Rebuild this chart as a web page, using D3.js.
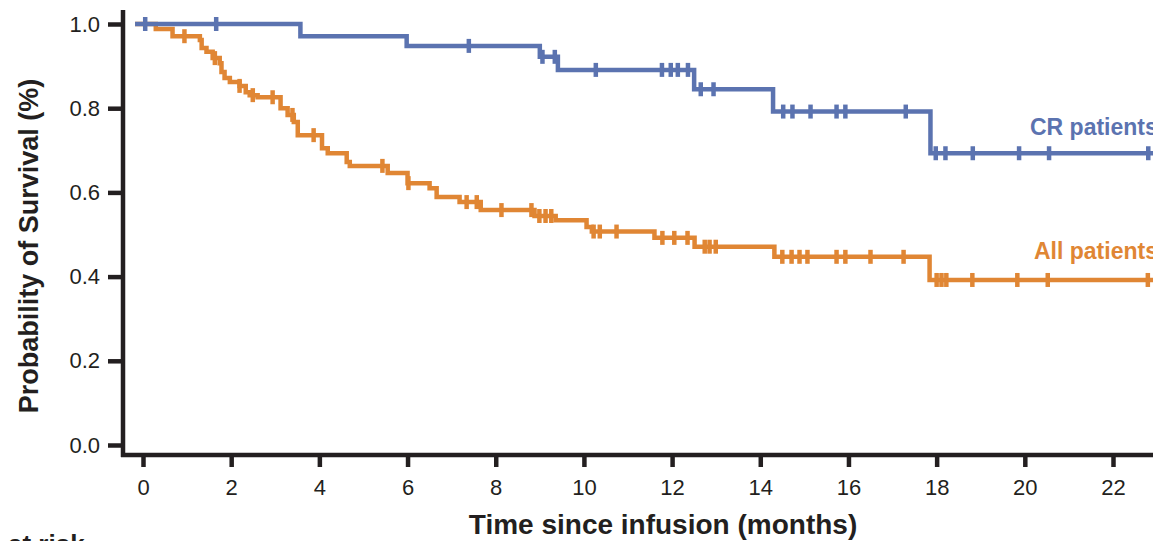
<!DOCTYPE html>
<html>
<head>
<meta charset="utf-8">
<script src="https://cdn.jsdelivr.net/npm/d3@7"></script>
<style>
  body { margin: 0; background: #fff; }
  svg { display: block; font-family: "Liberation Sans", Arial, sans-serif; }
</style>
</head>
<body>
<svg width="1153" height="541"></svg>
<script>
// Kaplan-Meier steps: time (months) where the curve drops, and survival after the drop
var crTimes = [-0.18, 3.57, 5.98, 9.0, 9.41, 12.5, 14.29, 17.86];
var crSurv  = [1.0, 0.971, 0.948, 0.922, 0.891, 0.845, 0.792, 0.693];
var crCensor = [0.05, 1.66, 7.39, 9.06, 9.34, 10.27, 11.77, 11.97, 12.13, 12.36, 12.65, 12.94,
                14.52, 14.73, 15.14, 15.73, 15.93, 17.3, 17.98, 18.2, 18.82, 19.87, 20.55, 22.8];

var allTimes = [-0.18, 0.29, 0.67, 1.29, 1.33, 1.44, 1.58, 1.74, 1.78, 1.85, 1.97, 2.19, 2.33, 2.42, 2.6,
                3.12, 3.28, 3.42, 3.51, 4.06, 4.19, 4.62, 4.69, 5.55, 6.0, 6.5, 6.66, 7.18, 7.66,
                8.88, 9.36, 10.06, 10.18, 11.6, 12.51, 14.32, 17.84];
var allSurv  = [1.0, 0.988, 0.971, 0.962, 0.943, 0.934, 0.919, 0.907, 0.886, 0.872, 0.862, 0.853, 0.838, 0.831, 0.826,
                0.80, 0.784, 0.767, 0.736, 0.705, 0.693, 0.672, 0.663, 0.646, 0.622, 0.61, 0.589, 0.577, 0.558,
                0.544, 0.534, 0.518, 0.507, 0.492, 0.471, 0.447, 0.392];
var allCensor = [0.94, 1.63, 2.19, 2.49, 2.94, 3.39, 3.87, 5.43, 6.02, 7.34, 7.57, 8.13, 8.81, 8.99, 9.13, 9.26,
                 10.22, 10.36, 10.74, 11.78, 12.05, 12.35, 12.74, 12.85, 12.99, 14.5, 14.71, 14.89, 15.07,
                 15.73, 15.93, 16.5, 17.25, 18.0, 18.11, 18.22, 18.81, 19.83, 20.52, 22.79];

var lastTime = 22.95;
var xTicks = [0, 2, 4, 6, 8, 10, 12, 14, 16, 18, 20, 22];
var yTicks = [0, 0.2, 0.4, 0.6, 0.8, 1.0];

var ink = "#231f20";
var blue = "#5b73b0";
var orange = "#e08634";

var svg = d3.select("svg");

// Scales
var x = d3.scaleLinear().domain([0, 22]).range([143, 1113]);
var y = d3.scaleLinear().domain([0, 1]).range([445, 24]);

var axisX = 123, axisY = 455;

// Left axis
var gy = svg.append("g")
    .attr("transform", "translate(" + axisX + ",0)")
    .call(d3.axisLeft(y).tickValues(yTicks).tickFormat(d3.format(".1f")).tickSize(15).tickPadding(8));
gy.select(".domain").remove();
gy.selectAll(".tick line").attr("stroke", ink).attr("stroke-width", 4.5);
gy.selectAll(".tick text").attr("fill", ink).style("font-size", "22px");

// Bottom axis
var gx = svg.append("g")
    .attr("transform", "translate(0," + axisY + ")")
    .call(d3.axisBottom(x).tickValues(xTicks).tickSize(12).tickPadding(12));
gx.select(".domain").remove();
gx.selectAll(".tick line").attr("stroke", ink).attr("stroke-width", 4.5);
gx.selectAll(".tick text").attr("fill", ink).style("font-size", "22px");

// Axis lines
svg.append("line")
    .attr("x1", axisX).attr("x2", axisX)
    .attr("y1", 10).attr("y2", axisY + 2)
    .attr("stroke", ink).attr("stroke-width", 4.5);
svg.append("line")
    .attr("x1", axisX - 2).attr("x2", 1153)
    .attr("y1", axisY).attr("y2", axisY)
    .attr("stroke", ink).attr("stroke-width", 4.5);

// Helpers
function survAt(times, surv, t) {
    var i = d3.bisectRight(times, t) - 1;
    return surv[Math.max(i, 0)];
}

function stepPoints(times, surv) {
    var pts = times.map(function(t, i) { return [t, surv[i]]; });
    pts.push([lastTime, surv[surv.length - 1]]);
    return pts;
}

var line = d3.line()
    .x(function(d) { return x(d[0]); })
    .y(function(d) { return y(d[1]); })
    .curve(d3.curveStepAfter);

function drawCurve(times, surv, censor, color) {
    var g = svg.append("g");
    g.append("path")
        .datum(stepPoints(times, surv))
        .attr("d", line)
        .attr("fill", "none")
        .attr("stroke", color)
        .attr("stroke-width", 4.5)
        .attr("stroke-linejoin", "miter");

    g.selectAll("line.censor")
        .data(censor)
        .enter().append("line")
        .attr("class", "censor")
        .attr("x1", function(d) { return x(d); })
        .attr("x2", function(d) { return x(d); })
        .attr("y1", function(d) { return y(survAt(times, surv, d)) - 7; })
        .attr("y2", function(d) { return y(survAt(times, surv, d)) + 7; })
        .attr("stroke", color)
        .attr("stroke-width", 4.5);
}

drawCurve(allTimes, allSurv, allCensor, orange);
drawCurve(crTimes, crSurv, crCensor, blue);

// Curve labels (run past the right edge, as in the figure)
svg.append("text")
    .attr("x", 1030).attr("y", 135)
    .attr("fill", blue)
    .style("font-size", "23px").style("font-weight", "bold")
    .text("CR patients");

svg.append("text")
    .attr("x", 1034).attr("y", 259)
    .attr("fill", orange)
    .style("font-size", "23px").style("font-weight", "bold")
    .text("All patients");

// Axis titles
svg.append("text")
    .attr("x", 663).attr("y", 534)
    .attr("text-anchor", "middle")
    .attr("fill", ink)
    .style("font-size", "28px").style("font-weight", "bold")
    .text("Time since infusion (months)");

svg.append("text")
    .attr("transform", "translate(38,246) rotate(-90)")
    .attr("text-anchor", "middle")
    .attr("fill", ink)
    .style("font-size", "27px").style("font-weight", "bold")
    .text("Probability of Survival (%)");

// Risk table header, cut off by the bottom edge
svg.append("text")
    .attr("x", 8).attr("y", 553)
    .attr("fill", ink)
    .style("font-size", "26px").style("font-weight", "bold")
    .text("at risk");
</script>
</body>
</html>
